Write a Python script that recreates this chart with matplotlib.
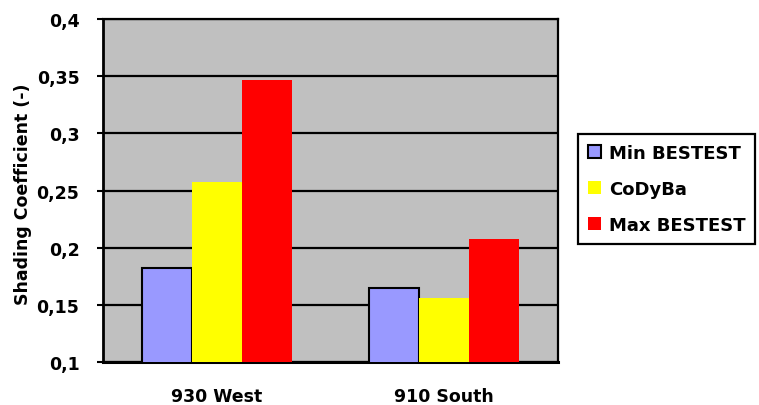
import matplotlib.pyplot as plt
import numpy as np
from matplotlib.patches import Patch

categories = ['930 West', '910 South']
series_names = ['Min BESTEST', 'CoDyBa', 'Max BESTEST']
min_bestest = [0.182, 0.165]
codyba = [0.257, 0.156]
max_bestest = [0.347, 0.208]
y_ticks = [0.1, 0.15, 0.2, 0.25, 0.3, 0.35, 0.4]
y_tick_labels = ['0,1', '0,15', '0,2', '0,25', '0,3', '0,35', '0,4']

blue = '#9999FF'
yellow = '#FFFF00'
red = '#FF0000'
grey = '#C0C0C0'

plt.rcParams['font.family'] = 'DejaVu Sans'
plt.rcParams['font.weight'] = 'bold'

fig = plt.figure(figsize=(7.59, 4.06), dpi=100)
ax = fig.add_axes([103 / 759, 43 / 406, 455 / 759, 343 / 406])
ax.set_facecolor(grey)

x = np.arange(len(categories))
w = 0.22
ax.bar(x - w, min_bestest, w, color=blue, edgecolor='black', linewidth=1.5, zorder=3)
ax.bar(x, codyba, w, color=yellow, linewidth=0, zorder=3)
ax.bar(x + w, max_bestest, w, color=red, linewidth=0, zorder=3)

ax.set_xlim(-0.5, 1.5)
ax.set_ylim(0.1, 0.4)
ax.set_yticks(y_ticks)
ax.set_yticklabels(y_tick_labels, fontsize=12.5, fontweight='bold')
ax.set_xticks(x)
ax.set_xticklabels(categories, fontsize=12.5, fontweight='bold')
ax.tick_params(axis='x', length=0, pad=18)
ax.tick_params(axis='y', length=4, width=1.5, pad=13, direction='out')

ax.yaxis.grid(True, color='black', linewidth=1.6, zorder=1)
ax.set_axisbelow(True)
for s in ax.spines.values():
    s.set_color('black')
    s.set_linewidth(1.6)
ax.spines['bottom'].set_linewidth(2.2)
ax.spines['left'].set_linewidth(2)

fig.text(23 / 759, 1 - 194 / 406, 'Shading Coefficient (-)', rotation=90,
         ha='center', va='center', fontsize=12.5, fontweight='bold')

handles = [Patch(facecolor=blue, edgecolor='black', linewidth=1.5),
           Patch(facecolor=yellow, linewidth=0),
           Patch(facecolor=red, linewidth=0)]
leg = fig.legend(handles, series_names, loc='center left', bbox_to_anchor=(578 / 759, 1 - 190 / 406),
                 prop={'size': 13, 'weight': 'bold'}, fancybox=False, framealpha=1,
                 edgecolor='black', handlelength=0.75, handleheight=0.75, handletextpad=0.4,
                 labelspacing=1.0, borderpad=0.55, borderaxespad=0)
leg.get_frame().set_linewidth(1.6)

fig.savefig('out.png', dpi=100)
